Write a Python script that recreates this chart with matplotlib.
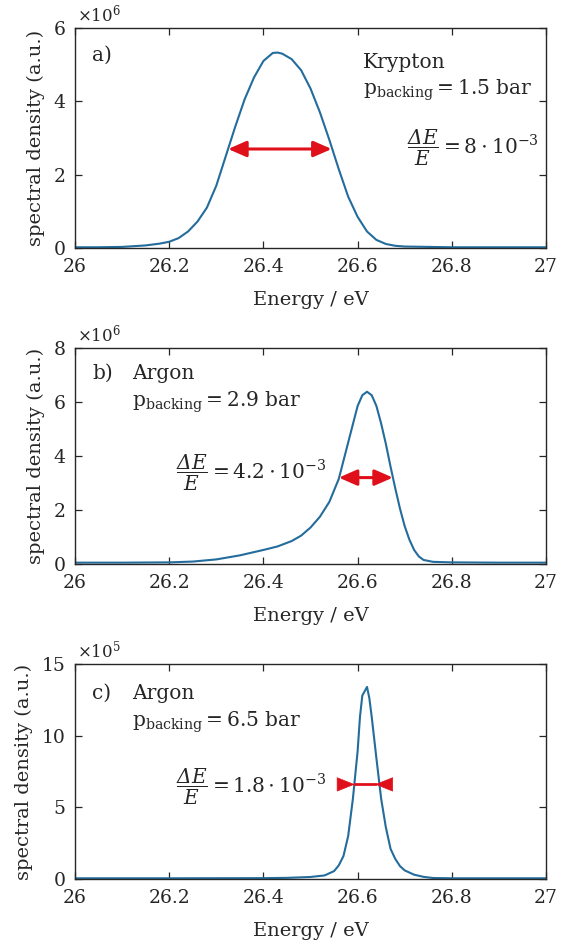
import matplotlib
matplotlib.use("Agg")
import matplotlib.pyplot as plt
from matplotlib.ticker import FuncFormatter
import numpy as np

# ── Data ────────────────────────────────────────────────────────────────────
# a) Krypton, 1.5 bar
kr_energy = [26.00, 26.05, 26.10, 26.15, 26.18, 26.20, 26.22, 26.24, 26.26, 26.28,
             26.30, 26.32, 26.34, 26.36, 26.38, 26.40, 26.42, 26.43, 26.44, 26.46,
             26.48, 26.50, 26.52, 26.54, 26.56, 26.58, 26.60, 26.62, 26.64, 26.66,
             26.68, 26.70, 26.75, 26.80, 26.90, 27.00]
kr_density = np.array([0.02, 0.02, 0.03, 0.07, 0.12, 0.17, 0.27, 0.45, 0.72, 1.10,
                       1.70, 2.50, 3.30, 4.05, 4.65, 5.10, 5.32, 5.33, 5.30, 5.15,
                       4.85, 4.35, 3.70, 2.95, 2.15, 1.40, 0.85, 0.45, 0.22, 0.11,
                       0.06, 0.04, 0.03, 0.02, 0.02, 0.02]) * 1e6

# b) Argon, 2.9 bar
ar29_energy = [26.00, 26.10, 26.20, 26.25, 26.30, 26.35, 26.40, 26.43, 26.46, 26.48,
               26.50, 26.52, 26.54, 26.56, 26.58, 26.60, 26.61, 26.62, 26.63, 26.64,
               26.65, 26.66, 26.67, 26.68, 26.69, 26.70, 26.71, 26.72, 26.73, 26.74,
               26.76, 26.80, 26.90, 27.00]
ar29_density = np.array([0.05, 0.05, 0.06, 0.09, 0.17, 0.32, 0.52, 0.65, 0.85, 1.05,
                         1.35, 1.75, 2.30, 3.15, 4.50, 5.85, 6.25, 6.38, 6.25, 5.85,
                         5.20, 4.45, 3.60, 2.80, 2.05, 1.40, 0.90, 0.52, 0.28, 0.15,
                         0.08, 0.06, 0.05, 0.05]) * 1e6

# c) Argon, 6.5 bar
ar65_energy = [26.00, 26.20, 26.40, 26.45, 26.50, 26.53, 26.55, 26.56, 26.57, 26.58,
               26.59, 26.60, 26.605, 26.61, 26.615, 26.62, 26.625, 26.63, 26.64, 26.65,
               26.66, 26.67, 26.68, 26.69, 26.70, 26.72, 26.74, 26.76, 26.80, 27.00]
ar65_density = np.array([0.05, 0.05, 0.06, 0.08, 0.14, 0.25, 0.55, 0.95, 1.6, 3.0,
                         5.6, 8.9, 11.3, 12.8, 13.1, 13.4, 12.6, 11.3, 8.4, 5.6,
                         3.6, 2.1, 1.4, 0.9, 0.6, 0.3, 0.15, 0.07, 0.05, 0.05]) * 1e5

# FWHM markers: (left, right, height)
kr_fwhm = (26.325, 26.545, 2.7e6)
ar29_fwhm = (26.560, 26.675, 3.2e6)
ar65_fwhm = (26.594, 26.637, 6.6e5)
ar65_fwhm_outer = (26.564, 26.666)

labels = ["a)", "b)", "c)"]
gases = ["Krypton", "Argon", "Argon"]
pressures = ["1.5", "2.9", "6.5"]
resolutions = ["8", "4.2", "1.8"]
exponents = [6, 6, 5]
ymax = [6e6, 8e6, 15e5]
yticks = [[0, 2e6, 4e6, 6e6], [0, 2e6, 4e6, 6e6, 8e6], [0, 5e5, 10e5, 15e5]]
xticks = [26, 26.2, 26.4, 26.6, 26.8, 27]

# ── Style ───────────────────────────────────────────────────────────────────
LINE = "#236c9c"
ARROW = "#e0101a"
TEXT = "#262626"
FONT = "DejaVu Serif"
ANN = 14.5  # annotation font size

plt.rcParams.update({
    "font.family": FONT,
    "mathtext.fontset": "custom",
    "mathtext.rm": "DejaVu Serif",
    "mathtext.it": "DejaVu Serif:italic",
    "mathtext.bf": "DejaVu Serif:bold",
    # sf is only used to get an italic capital Delta (mathtext keeps it upright in \mathit)
    "mathtext.sf": "DejaVu Serif:italic",
    "font.size": 13,
    "text.color": TEXT,
    "axes.labelcolor": TEXT,
    "axes.edgecolor": TEXT,
    "xtick.color": TEXT,
    "ytick.color": TEXT,
    "xtick.direction": "in",
    "ytick.direction": "in",
    "xtick.top": True,
    "ytick.right": True,
    "axes.linewidth": 1.0,
})

fig = plt.figure(figsize=(5.62, 9.47), dpi=100)
left, width = 75 / 562, 471 / 562
boxes = [(28, 248), (348, 564), (664, 879)]
axes = [fig.add_axes([left, 1 - b / 947, width, (b - t) / 947]) for t, b in boxes]

series = [(kr_energy, kr_density), (ar29_energy, ar29_density), (ar65_energy, ar65_density)]


def frac_text(r):
    return rf"$\dfrac{{\mathsf{{Δ}}\mathit{{E}}}}{{\mathit{{E}}}} = {r}\cdot10^{{-3}}$"


def pressure_text(p):
    return rf"$\mathrm{{p}}_{{\mathrm{{backing}}}} = {p}$ bar"


for i, ax in enumerate(axes):
    e, s = series[i]
    ax.plot(e, s, color=LINE, lw=1.5)
    ax.set_xlim(26, 27)
    ax.set_ylim(0, ymax[i])
    ax.set_xticks(xticks)
    ax.set_yticks(yticks[i])
    ax.xaxis.set_major_formatter(FuncFormatter(lambda v, p: f"{v:g}"))
    scale = 10 ** exponents[i]
    ax.yaxis.set_major_formatter(FuncFormatter(lambda v, p, sc=scale: f"{v / sc:g}"))
    ax.tick_params(length=5, width=0.9, labelsize=13.5, pad=7)
    ax.set_xlabel("Energy / eV", fontsize=14, labelpad=11)
    ax.set_ylabel("spectral density (a.u.)", fontsize=14, labelpad=6)
    ax.text(0.005, 1.01, rf"$\times10^{{{exponents[i]}}}$", transform=ax.transAxes,
            fontsize=12, ha="left", va="bottom")

# a) annotations
ax = axes[0]
ax.text(0.036, 0.877, labels[0], transform=ax.transAxes, fontsize=ANN, va="center")
ax.text(0.612, 0.845, gases[0], transform=ax.transAxes, fontsize=ANN, va="center")
ax.text(0.612, 0.718, pressure_text(pressures[0]), transform=ax.transAxes,
        fontsize=ANN, va="center")
ax.text(0.705, 0.455, frac_text(resolutions[0]), transform=ax.transAxes,
        fontsize=ANN, va="center")
ax.annotate("", xy=(kr_fwhm[0], kr_fwhm[2]), xytext=(kr_fwhm[1], kr_fwhm[2]),
            arrowprops=dict(arrowstyle="<|-|>,head_length=0.55,head_width=0.24",
                            mutation_scale=20, color=ARROW, lw=2.2,
                            shrinkA=0, shrinkB=0))

# b) annotations
ax = axes[1]
ax.text(0.036, 0.884, labels[1], transform=ax.transAxes, fontsize=ANN, va="center")
ax.text(0.122, 0.884, gases[1], transform=ax.transAxes, fontsize=ANN, va="center")
ax.text(0.122, 0.75, pressure_text(pressures[1]), transform=ax.transAxes,
        fontsize=ANN, va="center")
ax.text(0.215, 0.421, frac_text(resolutions[1]), transform=ax.transAxes,
        fontsize=ANN, va="center")
ax.annotate("", xy=(ar29_fwhm[0], ar29_fwhm[2]), xytext=(ar29_fwhm[1], ar29_fwhm[2]),
            arrowprops=dict(arrowstyle="<|-|>,head_length=0.55,head_width=0.24",
                            mutation_scale=20, color=ARROW, lw=2.2,
                            shrinkA=0, shrinkB=0))

# c) annotations, arrowheads point inwards
ax = axes[2]
ax.text(0.036, 0.865, labels[2], transform=ax.transAxes, fontsize=ANN, va="center")
ax.text(0.122, 0.865, gases[2], transform=ax.transAxes, fontsize=ANN, va="center")
ax.text(0.122, 0.73, pressure_text(pressures[2]), transform=ax.transAxes,
        fontsize=ANN, va="center")
ax.text(0.215, 0.428, frac_text(resolutions[2]), transform=ax.transAxes,
        fontsize=ANN, va="center")
y = ar65_fwhm[2]
ax.plot([ar65_fwhm[0], ar65_fwhm[1]], [y, y], color=ARROW, lw=2.0)
for tip, base in [(ar65_fwhm[0], ar65_fwhm_outer[0]), (ar65_fwhm[1], ar65_fwhm_outer[1])]:
    ax.annotate("", xy=(tip, y), xytext=(base, y),
                arrowprops=dict(arrowstyle="-|>,head_length=0.6,head_width=0.24",
                                mutation_scale=20, color=ARROW, lw=0.5,
                                shrinkA=0, shrinkB=0))

fig.savefig("out.png", dpi=100)
